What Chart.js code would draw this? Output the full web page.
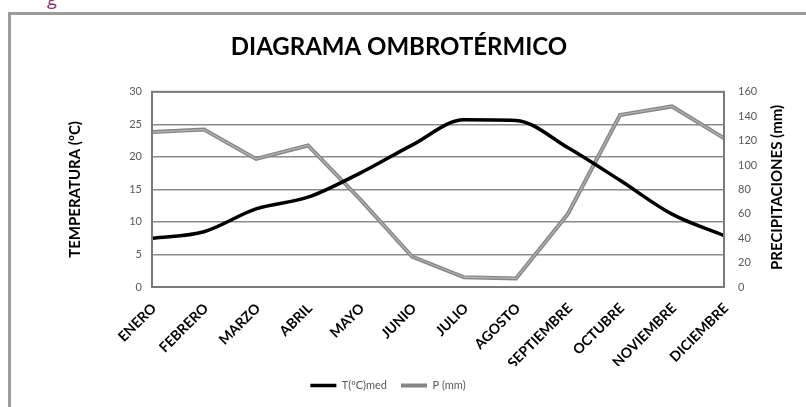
<!DOCTYPE html>
<html>
<head>
<meta charset="utf-8">
<script src="https://cdn.jsdelivr.net/npm/chart.js@4.4.1/dist/chart.umd.min.js"></script>
<style>
  html, body { margin: 0; padding: 0; background: #fff; overflow: hidden; }
  body { width: 806px; height: 407px; position: relative; }
  .doc-text { position: absolute; left: 47px; top: -14px; font: 18px "Open Sans", sans-serif; color: #8a2f6e; }
  .frame { position: absolute; left: 8px; top: 12px; width: 820px; height: 420px;
           border-top: 3px solid #9c9c9c; border-left: 3px solid #9c9c9c; }
  .wrap { position: absolute; left: 11px; top: 15px; width: 795px; height: 392px; }
</style>
</head>
<body>
<span class="doc-text">g</span>
<div class="frame"></div>
<div class="wrap"><canvas id="climaChart" width="795" height="392"></canvas></div>
<script>
document.addEventListener("DOMContentLoaded", function () {
    // Monthly climate data
    var meses = ['ENERO', 'FEBRERO', 'MARZO', 'ABRIL', 'MAYO', 'JUNIO', 'JULIO',
                 'AGOSTO', 'SEPTIEMBRE', 'OCTUBRE', 'NOVIEMBRE', 'DICIEMBRE'];
    var temperatura = [7.5, 8.5, 12, 13.8, 17.5, 21.8, 25.7, 25.6, 21.4, 16.4, 11.2, 7.9];
    var precipitacion = [127, 129, 105, 116, 72, 25, 8, 7, 60, 141, 148, 122];

    var fuente = 'Lato, "Liberation Sans", sans-serif';
    var tituloDerecho = 'PRECIPITACIONES (mm)';

    // box around the plot area, right axis title read bottom-up,
    // title and legend nudged left, light core on the rain line
    var extras = {
        id: 'extras',
        afterLayout: function (chart) {
            chart.legend.left -= 38;
            chart.legend.right -= 38;
            chart.titleBlock.left -= 27;
            chart.titleBlock.right -= 27;
        },
        afterDatasetDraw: function (chart, args) {
            if (args.index !== 1) return;
            var pts = args.meta.data, c = chart.ctx;
            c.save();
            c.strokeStyle = '#b4b4b4';
            c.lineWidth = 1.3;
            c.lineJoin = 'round';
            c.beginPath();
            pts.forEach(function (p, i) {
                if (i === 0) c.moveTo(p.x, p.y); else c.lineTo(p.x, p.y);
            });
            c.stroke();
            c.restore();
        },
        afterDraw: function (chart) {
            var a = chart.chartArea, c = chart.ctx;
            c.save();
            c.strokeStyle = '#7a7a7a';
            c.lineWidth = 2;
            c.strokeRect(a.left, a.top, a.right - a.left, a.bottom - a.top);
            c.translate(766, (a.top + a.bottom) / 2 - 2);
            c.rotate(-Math.PI / 2);
            c.fillStyle = '#000';
            c.font = 'bold 15px ' + fuente;
            c.textAlign = 'center';
            c.textBaseline = 'middle';
            c.fillText(tituloDerecho, 0, 0);
            c.restore();
        }
    };

    var ctx = document.getElementById('climaChart').getContext('2d');
    var chart = new Chart(ctx, {
        type: 'line',
        data: {
            labels: meses,
            datasets: [{
                label: 'T(ºC)med',
                data: temperatura,
                yAxisID: 'y',
                borderColor: '#000000',
                backgroundColor: '#000000',
                borderWidth: 3.5,
                cubicInterpolationMode: 'monotone',
                pointRadius: 0
            }, {
                label: 'P (mm)',
                data: precipitacion,
                yAxisID: 'y1',
                borderColor: '#858585',
                backgroundColor: '#858585',
                borderWidth: 4,
                tension: 0,
                pointRadius: 0
            }]
        },
        options: {
            responsive: false,
            animation: false,
            layout: { padding: { left: 51, right: 16, top: 0, bottom: 6 } },
            plugins: {
                title: {
                    display: true,
                    text: 'DIAGRAMA OMBROTÉRMICO',
                    color: '#000',
                    font: { family: fuente, size: 24, weight: 'bold' },
                    padding: { top: 18, bottom: 30 }
                },
                legend: {
                    position: 'bottom',
                    labels: {
                        usePointStyle: true,
                        pointStyleWidth: 26,
                        boxHeight: 6,
                        color: '#595959',
                        padding: 14,
                        font: { family: fuente, size: 11 }
                    }
                },
                tooltip: { enabled: false }
            },
            elements: { point: { pointStyle: 'line' } },
            scales: {
                x: {
                    grid: { display: false, drawTicks: false },
                    border: { display: true, color: '#7a7a7a', width: 2 },
                    ticks: {
                        color: '#000',
                        minRotation: 45,
                        maxRotation: 45,
                        padding: 13,
                        labelOffset: 2,
                        font: { family: fuente, size: 14, weight: 'bold' }
                    },
                    afterFit: function (s) { s.height = 79; }
                },
                y: {
                    position: 'left',
                    min: 0,
                    max: 30,
                    ticks: { stepSize: 5, color: '#595959', padding: 10, font: { family: fuente, size: 11 } },
                    grid: { color: '#8c8c8c', lineWidth: 1.5, drawTicks: false },
                    border: { display: true, color: '#7a7a7a', width: 2 },
                    title: {
                        display: true,
                        text: 'TEMPERATURA (ºC)',
                        color: '#000',
                        font: { family: fuente, size: 15, weight: 'bold' },
                        padding: { top: 4, bottom: 4 }
                    },
                    afterFit: function (s) { s.width = 90; }
                },
                y1: {
                    position: 'right',
                    min: 0,
                    max: 160,
                    ticks: { stepSize: 20, color: '#595959', padding: 14, font: { family: fuente, size: 11 } },
                    grid: { display: false, drawTicks: false },
                    border: { display: false },
                    afterFit: function (s) { s.width = 66; }
                }
            }
        },
        plugins: [extras]
    });
});
</script>
</body>
</html>
